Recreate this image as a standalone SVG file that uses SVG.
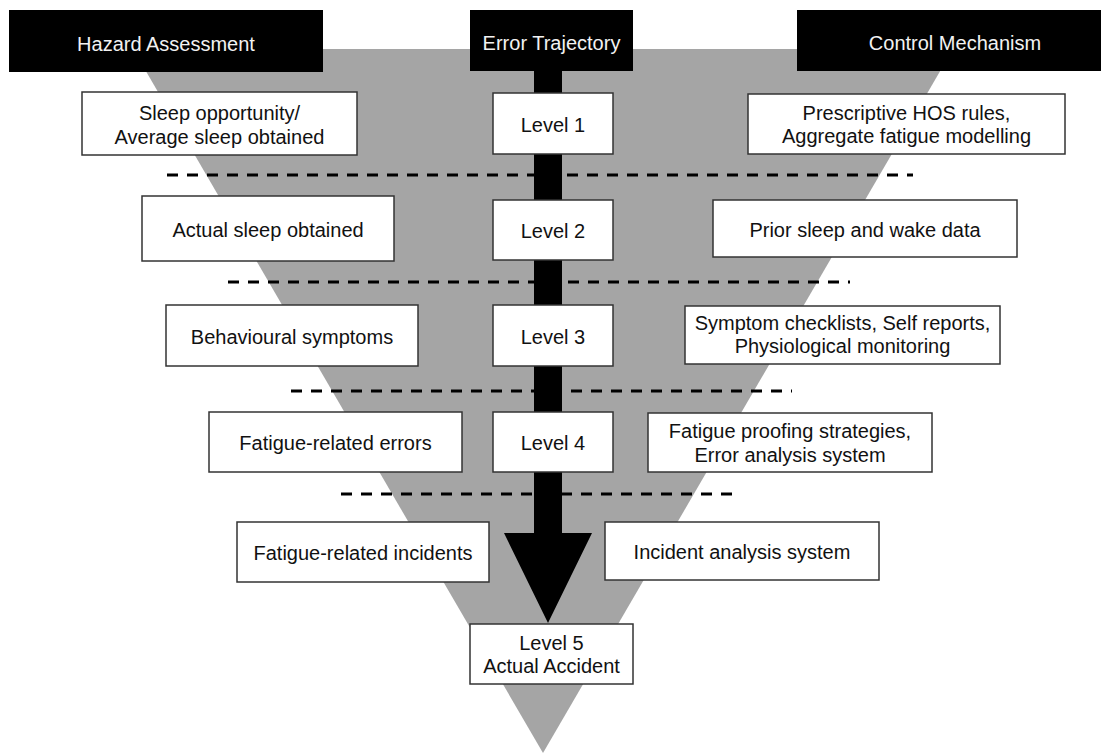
<svg xmlns="http://www.w3.org/2000/svg" width="1101" height="754" viewBox="0 0 1101 754">
  <style>
    .box { fill: #ffffff; stroke: #333333; stroke-width: 1.5; }
    .hdr { fill: #000000; }
    .txt { font-family: "Liberation Sans", Arial, sans-serif; font-size: 20px; fill: #111111; text-anchor: middle; }
    .htxt { font-family: "Liberation Sans", Arial, sans-serif; font-size: 20px; fill: #f2f2f2; text-anchor: middle; }
    .dash { stroke: #000000; stroke-width: 3; stroke-dasharray: 11 9; fill: none; }
  </style>

  <!-- funnel background -->
  <polygon id="funnel" points="133,49 953,49 543,753" fill="#a5a5a5"/>

  <!-- level separators -->
  <g id="separators">
    <line class="dash" x1="167" y1="175" x2="913" y2="175"/>
    <line class="dash" x1="228" y1="282" x2="850" y2="282"/>
    <line class="dash" x1="291" y1="391" x2="792" y2="391"/>
    <line class="dash" x1="341" y1="494" x2="737" y2="494"/>
  </g>

  <!-- error trajectory arrow -->
  <g id="connectors">
    <polygon points="534,70 562,70 562,533 592,533 548,623 504,533 534,533" fill="#000000"/>
  </g>

  <!-- column headers -->
  <g id="hdr-hazard">
    <rect class="hdr" x="9" y="10" width="314" height="62"/>
    <text class="htxt" x="166" y="51">Hazard Assessment</text>
  </g>
  <g id="hdr-trajectory">
    <rect class="hdr" x="470" y="10" width="163" height="61"/>
    <text class="htxt" x="551.5" y="50">Error Trajectory</text>
  </g>
  <g id="hdr-control">
    <rect class="hdr" x="797" y="10" width="304" height="61"/>
    <text class="htxt" x="955" y="50">Control Mechanism</text>
  </g>

  <!-- hazard assessment column -->
  <g id="hazard-1">
    <rect class="box" x="82" y="92" width="275" height="63"/>
    <text class="txt" x="219.5" y="120">Sleep opportunity/</text>
    <text class="txt" x="219.5" y="144">Average sleep obtained</text>
  </g>
  <g id="hazard-2">
    <rect class="box" x="142" y="196" width="252" height="65"/>
    <text class="txt" x="268" y="237">Actual sleep obtained</text>
  </g>
  <g id="hazard-3">
    <rect class="box" x="166" y="305" width="252" height="61"/>
    <text class="txt" x="292" y="344">Behavioural symptoms</text>
  </g>
  <g id="hazard-4">
    <rect class="box" x="209" y="412" width="253" height="60"/>
    <text class="txt" x="335.5" y="450">Fatigue-related errors</text>
  </g>
  <g id="hazard-5">
    <rect class="box" x="237" y="522" width="252" height="60"/>
    <text class="txt" x="363" y="560">Fatigue-related incidents</text>
  </g>

  <!-- error trajectory levels -->
  <g id="level-1">
    <rect class="box" x="493" y="93" width="120" height="61"/>
    <text class="txt" x="553" y="132">Level 1</text>
  </g>
  <g id="level-2">
    <rect class="box" x="493" y="200" width="120" height="60"/>
    <text class="txt" x="553" y="238">Level 2</text>
  </g>
  <g id="level-3">
    <rect class="box" x="493" y="305" width="120" height="61"/>
    <text class="txt" x="553" y="344">Level 3</text>
  </g>
  <g id="level-4">
    <rect class="box" x="493" y="412" width="120" height="60"/>
    <text class="txt" x="553" y="450">Level 4</text>
  </g>
  <g id="level-5">
    <rect class="box" x="470" y="624" width="163" height="60"/>
    <text class="txt" x="551.5" y="650">Level 5</text>
    <text class="txt" x="551.5" y="673">Actual Accident</text>
  </g>

  <!-- control mechanism column -->
  <g id="control-1">
    <rect class="box" x="748" y="94" width="317" height="60"/>
    <text class="txt" x="906.5" y="120">Prescriptive HOS rules,</text>
    <text class="txt" x="906.5" y="143">Aggregate fatigue modelling</text>
  </g>
  <g id="control-2">
    <rect class="box" x="713" y="200" width="304" height="57"/>
    <text class="txt" x="865" y="237">Prior sleep and wake data</text>
  </g>
  <g id="control-3">
    <rect class="box" x="685" y="306" width="315" height="58"/>
    <text class="txt" x="842.5" y="330">Symptom checklists, Self reports,</text>
    <text class="txt" x="842.5" y="353">Physiological monitoring</text>
  </g>
  <g id="control-4">
    <rect class="box" x="648" y="413" width="284" height="59"/>
    <text class="txt" x="790" y="438">Fatigue proofing strategies,</text>
    <text class="txt" x="790" y="462">Error analysis system</text>
  </g>
  <g id="control-5">
    <rect class="box" x="605" y="522" width="274" height="58"/>
    <text class="txt" x="742" y="559">Incident analysis system</text>
  </g>
</svg>
